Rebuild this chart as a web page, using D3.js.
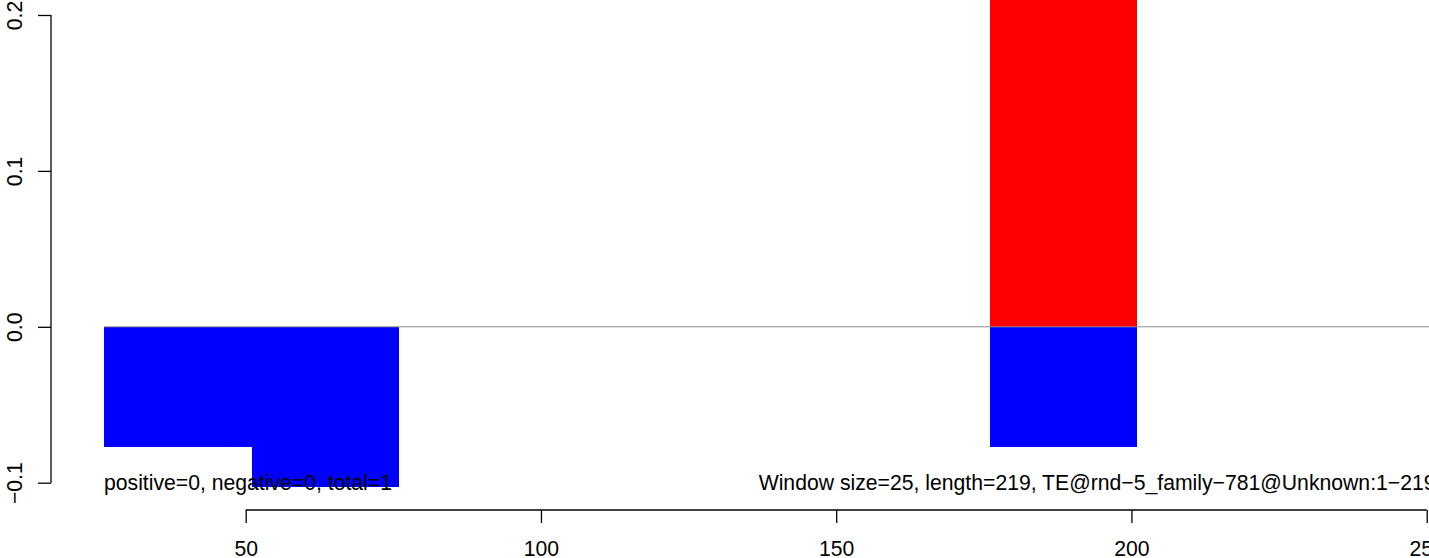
<!DOCTYPE html>
<html><head><meta charset="utf-8">
<script src="https://cdn.jsdelivr.net/npm/d3@7"></script>
<style>body{margin:0;background:#fff;}svg{display:block;font-family:"Liberation Sans",Arial,sans-serif;}</style>
</head><body><svg id="c" width="1429" height="558"></svg>
<script>
const binStart = [26, 51, 176, 176];
const binEnd   = [51, 76, 201, 201];
const binValue = [-0.0769, -0.1026, 0.26, -0.0769];
const binColor = ["#0000ff", "#0000ff", "#ff0000", "#0000ff"];
const xTicks = [50, 100, 150, 200, 250];
const yTicks = [-0.1, 0.0, 0.1, 0.2];
const leftText = "positive=0, negative=0, total=1";
const rightText = "Window size=25, length=219, TE@rnd\u22125_family\u2212781@Unknown:1\u2212219";
const FS = 21.2;

const svg = d3.select("#c");
const x = d3.scaleLinear().domain([50, 250]).range([245.7, 1426.7]);
const y = d3.scaleLinear().domain([-0.1, 0.2]).range([482.7, 15]);

// bars
svg.selectAll("rect.bar").data(binValue).enter().append("rect")
  .attr("x", (d,i) => x(binStart[i]))
  .attr("width", (d,i) => x(binEnd[i]) - x(binStart[i]))
  .attr("y", d => Math.min(y(d), y(0)))
  .attr("height", d => Math.abs(y(d) - y(0)))
  .attr("fill", (d,i) => binColor[i])
  .attr("shape-rendering", "crispEdges");

// zero line
svg.append("line").attr("x1", x(26)).attr("x2", 1429).attr("y1", y(0)).attr("y2", y(0))
  .attr("stroke", "#8c8c8c").attr("stroke-width", 1);

// y axis
const ya = svg.append("g").attr("transform", "translate(51,0)")
  .call(d3.axisLeft(y).tickValues(yTicks).tickSize(13).tickFormat(d3.format(".1f")));
ya.select(".domain").attr("d", `M0,${y(0.2)}V${y(-0.1)}`).attr("stroke", "#000").attr("stroke-width", 1.3);
ya.selectAll(".tick line").attr("stroke", "#000").attr("stroke-width", 1.3);
ya.selectAll(".tick text")
  .text(d => d3.format(".1f")(d).replace("-", "\u2212"))
  .attr("x", 0).attr("y", 0).attr("dy", null)
  .attr("transform", "translate(-37,0) rotate(-90)")
  .attr("text-anchor", "middle").attr("dominant-baseline", "central")
  .attr("font-size", FS).attr("fill", "#000").attr("font-family", "Liberation Sans, Arial, sans-serif");

// x axis
const xa = svg.append("g").attr("transform", "translate(0,510)")
  .call(d3.axisBottom(x).tickValues(xTicks).tickSize(13).tickFormat(d3.format("d")));
xa.select(".domain").attr("d", `M${x(50)},0H${x(250)}`).attr("stroke", "#000").attr("stroke-width", 1.3);
xa.selectAll(".tick line").attr("stroke", "#000").attr("stroke-width", 1.3);
xa.selectAll(".tick text").attr("y", 38).attr("dy", null)
  .attr("dominant-baseline", "central")
  .attr("font-size", FS).attr("fill", "#000").attr("font-family", "Liberation Sans, Arial, sans-serif");

// annotations
svg.append("text").attr("x", x(26)).attr("y", y(-0.1)).attr("dominant-baseline", "central")
  .attr("font-size", FS).attr("fill", "#000").text(leftText);
svg.append("text").attr("x", x(251.5)).attr("y", y(-0.1)).attr("dominant-baseline", "central")
  .attr("text-anchor", "end").attr("font-size", FS).attr("fill", "#000").text(rightText);
</script></body></html>
